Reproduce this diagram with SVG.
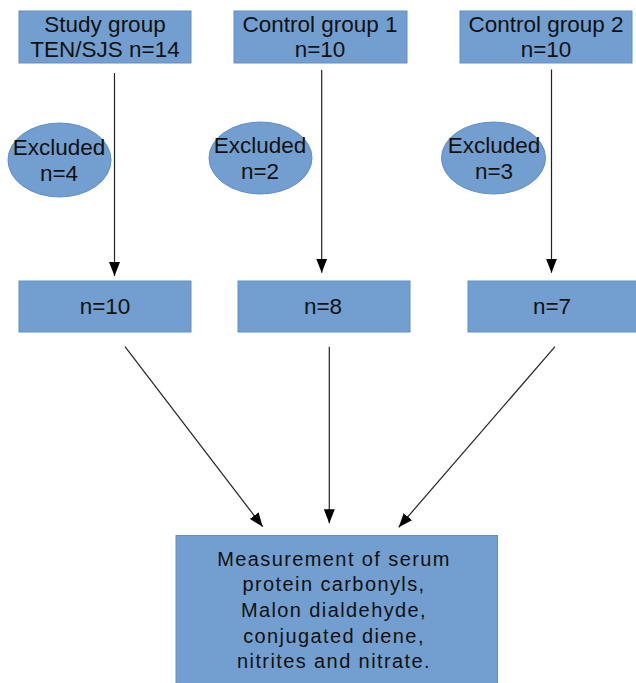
<svg xmlns="http://www.w3.org/2000/svg" width="636" height="683" viewBox="0 0 636 683">
<defs>
<marker id="ah" markerUnits="userSpaceOnUse" markerWidth="14" markerHeight="11" refX="14" refY="5.5" orient="auto" viewBox="0 0 14 11">
<path d="M0,0 L14,5.5 L0,11 Z" fill="#000"/>
</marker>
</defs>
<style>
.box{fill:#729fcf;stroke:#5f8fc9;stroke-width:1}
.t{font-family:"Liberation Sans",Arial,sans-serif;font-size:22.5px;fill:#111;text-anchor:middle}
.e{font-family:"Liberation Sans",Arial,sans-serif;font-size:22.5px;fill:#111;text-anchor:middle}
.b{font-family:"Liberation Sans",Arial,sans-serif;font-size:20px;letter-spacing:1.4px;fill:#111;text-anchor:middle}
.c{stroke:#222;stroke-width:1.2;fill:none;marker-end:url(#ah)}
</style>
<rect width="636" height="683" fill="#fff"/>
<g id="study">
<rect class="box" x="19" y="11" width="172" height="52"/>
<text class="t" x="105" y="32">Study group</text>
<text class="t" x="105" y="57">TEN/SJS n=14</text>
</g>
<g id="control1">
<rect class="box" x="234" y="11" width="173" height="52"/>
<text class="t" x="320" y="32">Control group 1</text>
<text class="t" x="320" y="57">n=10</text>
</g>
<g id="control2">
<rect class="box" x="460" y="11" width="172" height="52"/>
<text class="t" x="546" y="32">Control group 2</text>
<text class="t" x="546" y="57">n=10</text>
</g>
<g id="excl1">
<ellipse class="box" cx="59.5" cy="160" rx="51.5" ry="37"/>
<text class="e" x="59" y="155">Excluded</text>
<text class="e" x="59" y="181">n=4</text>
</g>
<g id="excl2">
<ellipse class="box" cx="260.5" cy="158" rx="51.5" ry="36"/>
<text class="e" x="260" y="152.5">Excluded</text>
<text class="e" x="260" y="178.5">n=2</text>
</g>
<g id="excl3">
<ellipse class="box" cx="493.5" cy="158" rx="52" ry="36"/>
<text class="e" x="494" y="152.5">Excluded</text>
<text class="e" x="494" y="178.5">n=3</text>
</g>
<g id="mid1">
<rect class="box" x="19" y="281" width="172" height="51"/>
<text class="t" x="105" y="314">n=10</text>
</g>
<g id="mid2">
<rect class="box" x="238" y="281" width="172" height="51"/>
<text class="t" x="323" y="314">n=8</text>
</g>
<g id="mid3">
<rect class="box" x="468" y="281" width="172" height="51"/>
<text class="t" x="552" y="314">n=7</text>
</g>
<g id="measure">
<rect class="box" x="176" y="535.5" width="321.5" height="150"/>
<text class="b" x="334" y="566">Measurement of serum</text>
<text class="b" x="334" y="591">protein carbonyls,</text>
<text class="b" x="334" y="617">Malon dialdehyde,</text>
<text class="b" x="334" y="643">conjugated diene,</text>
<text class="b" x="334" y="668">nitrites and nitrate.</text>
</g>
<g id="connectors">
<line class="c" x1="114.5" y1="73" x2="114.5" y2="276"/>
<line class="c" x1="321.7" y1="70" x2="321.7" y2="272.7"/>
<line class="c" x1="551.5" y1="69.5" x2="551.5" y2="272.7"/>
<line class="c" x1="125" y1="346.7" x2="262.7" y2="526.7"/>
<line class="c" x1="329.3" y1="346.7" x2="329.3" y2="523.3"/>
<line class="c" x1="555" y1="346.7" x2="398.7" y2="527.3"/>
</g>
</svg>
